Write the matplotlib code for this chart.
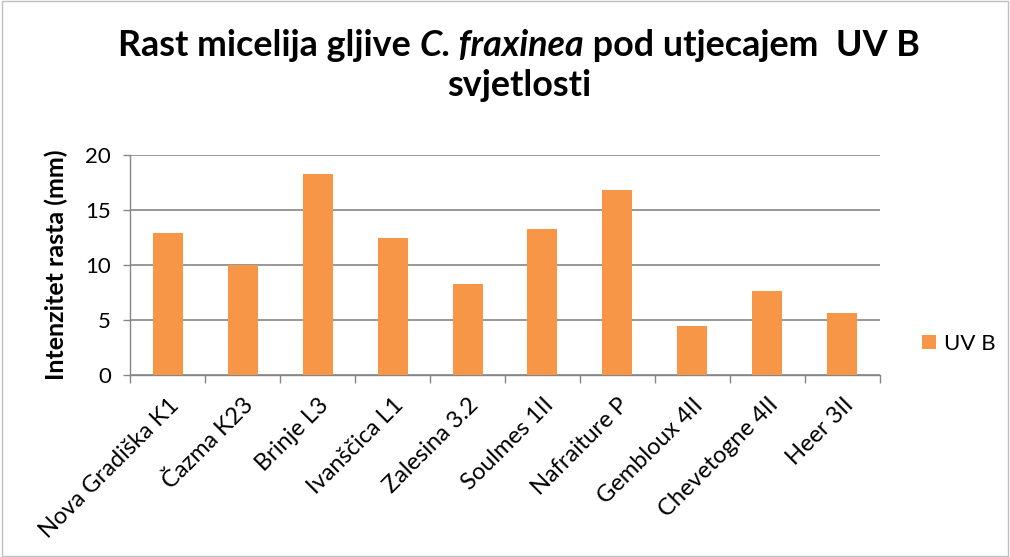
import matplotlib.pyplot as plt
from matplotlib.patches import Rectangle

# Chart data
categories = ['Nova Gradiška K1', 'Čazma K23', 'Brinje L3', 'Ivanščica L1', 'Zalesina 3.2',
              'Soulmes 1II', 'Nafraiture P', 'Gembloux 4II', 'Chevetogne 4II', 'Heer 3II']
uvb = [12.9, 10.0, 18.3, 12.4, 8.25, 13.3, 16.8, 4.4, 7.6, 5.6]
series_name = 'UV B'
yticks = [0, 5, 10, 15, 20]

plt.rcParams['font.family'] = ['Lato', 'DejaVu Sans']
orange = '#F79646'
grey = '#868686'

fig = plt.figure(figsize=(10.1, 5.57), dpi=100)
ax = fig.add_axes([0.129, 0.327, 0.742, 0.395])

x = list(range(len(categories)))
ax.bar(x, uvb, width=0.4, color=orange, label=series_name, zorder=3)

ax.set_xlim(-0.5, len(categories) - 0.5)
ax.set_ylim(0, 20)
ax.set_yticks(yticks)
ax.tick_params(axis='y', labelsize=16, length=5, color=grey, width=1, pad=9)
ax.yaxis.grid(True, color=grey, linewidth=1.2, zorder=0)

# category labels, ticks sit on the category boundaries
ax.set_xticks([i - 0.5 for i in range(len(categories) + 1)])
ax.set_xticklabels([])
ax.tick_params(axis='x', length=6, color=grey, width=1)
for i, c in enumerate(categories):
    ax.annotate(c, xy=(i, 0), xycoords=('data', 'axes fraction'),
                xytext=(0, -14), textcoords='offset points',
                rotation=45, ha='right', va='top', rotation_mode='anchor', fontsize=17)

for side in ['top', 'right']:
    ax.spines[side].set_visible(False)
for side in ['left', 'bottom']:
    ax.spines[side].set_color(grey)
    ax.spines[side].set_linewidth(1)

ax.set_ylabel('Intenzitet rasta (mm)', fontsize=18, fontweight='bold', labelpad=12)

ax.legend(loc='center left', bbox_to_anchor=(1.03, 0.14), frameon=False, fontsize=16,
          handlelength=0.6, handleheight=0.6, handletextpad=0.4)

# title, species name in italic
parts = [('Rast micelija gljive ', 'normal'), ('C. fraxinea', 'italic'), (' pod utjecajem  UV B', 'normal')]
fig.canvas.draw()
r = fig.canvas.get_renderer()
texts = []
for s, st in parts:
    t = fig.text(0, 1 - 45 / 557, s, fontsize=25.8, fontweight='bold', style=st, va='center', ha='left')
    texts.append(t)
widths = [t.get_window_extent(renderer=r).width for t in texts]
x0 = 519 - sum(widths) / 2
for t, w in zip(texts, widths):
    t.set_x(x0 / fig.bbox.width)
    x0 += w
fig.text(519 / 1010, 1 - 86 / 557, 'svjetlosti', fontsize=25.8, fontweight='bold', ha='center', va='center')

fig.patches.append(Rectangle((0.002, 0.002), 0.996, 0.996, transform=fig.transFigure,
                             fill=False, edgecolor='#BFBFBF', linewidth=1))

fig.savefig('out.png', dpi=100)
